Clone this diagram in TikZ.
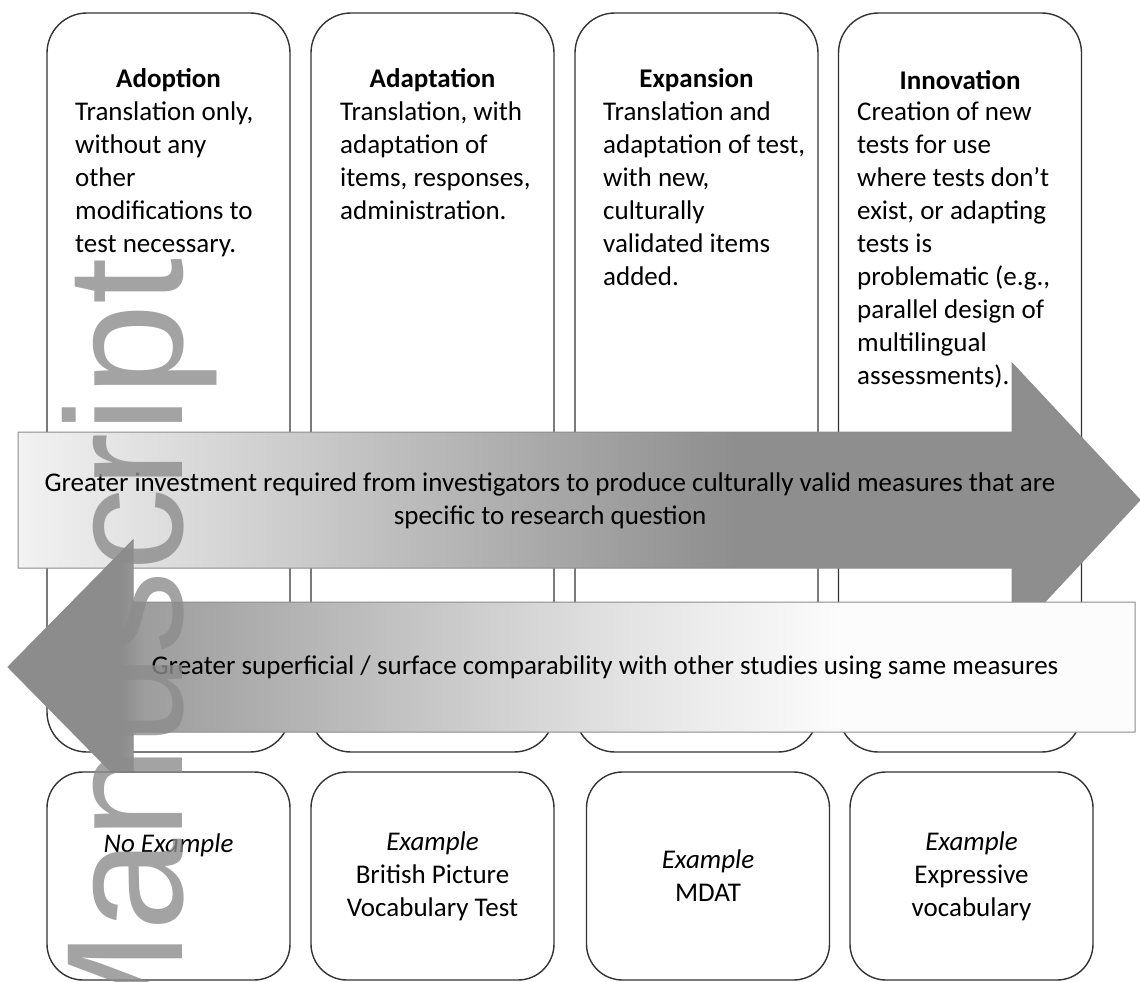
\documentclass[tikz,border=0pt]{standalone}
\usepackage{fontspec}
\setmainfont{Carlito}
\newfontfamily\markfont{Liberation Sans}

\definecolor{investlight}{HTML}{F2F2F2}
\definecolor{investdark}{HTML}{8E8E8E}
\definecolor{comparedark}{HTML}{8C8C8C}
\definecolor{comparemid}{HTML}{E2E2E2}
\definecolor{comparelight}{HTML}{FCFCFC}

\pgfdeclarehorizontalshading{investshade}{100bp}{color(0bp)=(investlight); color(25bp)=(investlight); color(57bp)=(investdark); color(100bp)=(investdark)}
\pgfdeclarehorizontalshading{compareshade}{100bp}{color(0bp)=(comparedark); color(30bp)=(comparedark); color(31bp)=(comparedark!85!white); color(52bp)=(comparemid); color(62bp)=(comparelight); color(100bp)=(comparelight)}

\begin{document}
\begin{tikzpicture}[x=1pt, y=-1pt,
    topbox/.style={draw=black!80, line width=1.4pt, fill=white, rounded corners=40pt,
      minimum width=243pt, minimum height=739pt},
    botbox/.style={draw=black!80, line width=1.4pt, fill=white, rounded corners=36pt,
      minimum width=243pt, minimum height=208pt, align=center,
      font=\fontsize{27}{33}\selectfont},
    headtext/.style={font=\fontsize{27}{33}\selectfont\bfseries, inner sep=0pt},
    bodytext/.style={font=\fontsize{27}{33}\selectfont, align=left, inner sep=0pt, anchor=north west},
    arrowtext/.style={font=\fontsize{27}{33}\selectfont, align=center, inner sep=0pt},
    arrowline/.style={draw=black!45, line width=1pt}]
  \useasboundingbox (0,0) rectangle (1140,982);

  % four approaches
  \node[topbox] (adoptbox) at (168.5,382.5) {};
  \node[topbox] (adaptbox) at (432.5,382.5) {};
  \node[topbox] (expandbox) at (696.5,382.5) {};
  \node[topbox] (innovbox) at (960,382.5) {};

  \node[headtext] (adopthead) at (168.5,80) {Adoption};
  \node[headtext] (adapthead) at (432.5,80) {Adaptation};
  \node[headtext] (expandhead) at (696.5,80) {Expansion};
  \node[headtext] (innovhead) at (960,80) {Innovation};

  \node[bodytext] (adoptbody) at (75,102) {Translation only,\\without any\\other\\modifications to\\test necessary.};
  \node[bodytext] (adaptbody) at (340,102) {Translation, with\\adaptation of\\items, responses,\\administration.};
  \node[bodytext] (expandbody) at (603,102) {Translation and\\adaptation of test,\\with new,\\culturally\\validated items\\added.};
  \node[bodytext] (innovbody) at (857,102) {Creation of new\\tests for use\\where tests don't\\exist, or adapting\\tests is\\problematic (e.g.,\\parallel design of\\multilingual\\assessments).};

  % the two arrows
  \shadedraw[arrowline, shading=investshade] (18,432) -- (1012,432) -- (1012,363) -- (1140,500)
    -- (1012,637) -- (1012,568) -- (18,568) -- cycle;
  \node[arrowtext] (invest) at (550,501) {Greater investment required from investigators to produce culturally valid measures that are\\specific to research question};

  \shadedraw[arrowline, shading=compareshade] (1135,602) -- (133,602) -- (133,540) -- (8,667)
    -- (133,794) -- (133,732) -- (1135,732) -- cycle;
  \node[arrowtext] (compare) at (605,667) {Greater superficial / surface comparability with other studies using same measures};

  % examples
  \node[botbox] (adoptex) at (168.5,876) {\textit{No Example}\\\phantom{X}\\\phantom{X}};
  \node[botbox] (adaptex) at (432.5,876) {\textit{Example}\\British Picture\\Vocabulary Test};
  \node[botbox] (expandex) at (708,876) {\textit{Example}\\MDAT};
  \node[botbox] (innovex) at (971.5,876) {\textit{Example}\\Expressive\\vocabulary};

  \node[rotate=90, anchor=base west, inner sep=0pt, text=black!45, text opacity=0.8,
    font=\markfont\fontsize{166}{166}\selectfont] (watermark) at (182,1070) {Manuscript};
\end{tikzpicture}
\end{document}
